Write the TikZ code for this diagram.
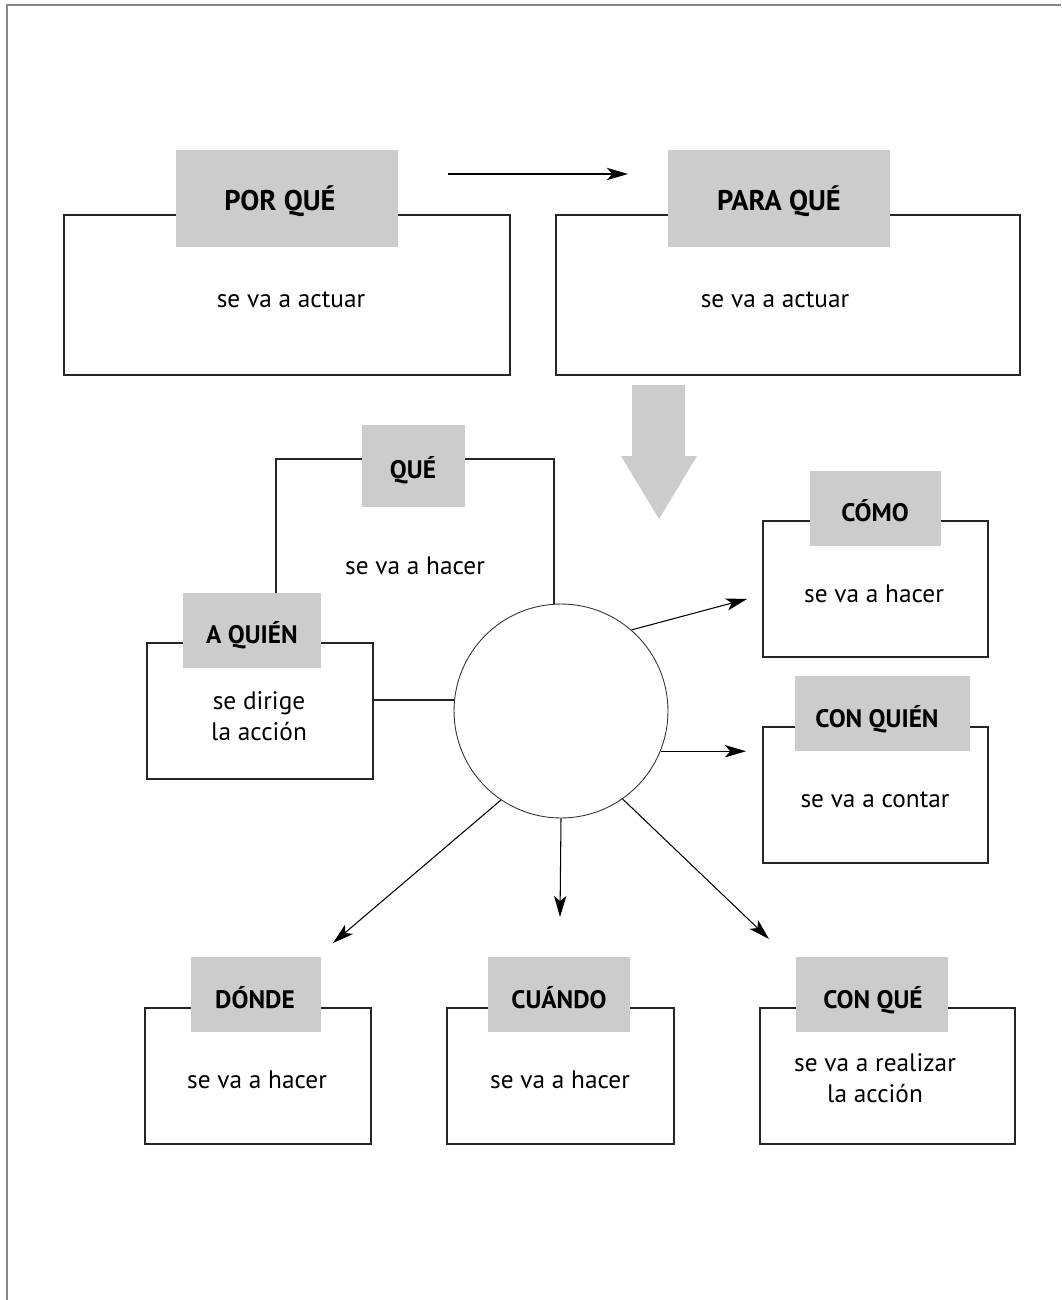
\documentclass[tikz,border=0pt]{standalone}
\usepackage{fontspec}
\setmainfont{PT Sans}
\usetikzlibrary{fit,arrows.meta}
\definecolor{labgray}{RGB}{204,204,204}
\definecolor{framegray}{RGB}{136,136,136}
\begin{document}
\begin{tikzpicture}[x=0.02cm,y=-0.02cm,
  frame/.style={draw=framegray, line width=1.2pt},
  box/.style={draw=black!85, line width=0.6pt, fill=white, inner sep=0pt},
  lab/.style={fill=labgray, inner sep=0pt},
  bigt/.style={font=\fontsize{16.2}{20}\selectfont\bfseries, anchor=base, inner sep=0pt},
  lt/.style={font=\fontsize{14.4}{18}\selectfont\bfseries, anchor=base, inner sep=0pt},
  bt/.style={font=\fontsize{14.4}{17.6}\selectfont, anchor=base, inner sep=0pt},
  bt2/.style={font=\fontsize{14.4}{17.6}\selectfont, align=center, inner sep=0pt},
  hub/.style={circle, draw=black!80, line width=0.5pt, fill=white, minimum size=4.28cm, inner sep=0pt},
  arr/.style={line width=0.6pt, -{Stealth[length=12pt,width=7pt,inset=3pt]}},
  bigarrow/.style={fill=labgray, draw=none}]
\useasboundingbox (0,0) rectangle (1061,1300);
% page frame
\draw[frame] (1061,5) -- (7,5) -- (7,1300);

% top row
\node[box, fit={(64,215)(510,375)}] (por) {};
\node[lab, fit={(176,150)(398,247)}] (porL) {};
\node[bigt] (porT) at (280,211) {POR QUÉ};
\node[bt] (porB) at (291,308) {se va a actuar};

\node[box, fit={(556,215)(1020,375)}] (para) {};
\node[lab, fit={(668,150)(890,247)}] (paraL) {};
\node[bigt] (paraT) at (779,211) {PARA QUÉ};
\node[bt] (paraB) at (775,308) {se va a actuar};

\coordinate (a1) at (448,174);
\coordinate (a2) at (628,174);
\draw[arr] (a1) -- (a2);

% big grey arrow
\path[bigarrow] (632,385) -- (685,385) -- (685,456) -- (697,456) -- (659,519)
  -- (621,456) -- (632,456) -- cycle;

% QUÉ frame
\node[draw=black!85, line width=0.6pt, inner sep=0pt, fit={(276,459)(554,700)}] (que) {};
\node[lab, fit={(362,425)(465,507)}] (queL) {};
\node[lt] (queT) at (413,478) {QUÉ};
\node[bt] (queB) at (415,574) {se va a hacer};

% A QUIÉN
\node[box, fit={(147,643)(373,779)}] (aq) {};
\node[lab, fit={(183,593)(321,668)}] (aqL) {};
\node[lt] (aqT) at (252,643) {A QUIÉN};
\node[bt2] (aqB) at (259,716) {se dirige\\la acción};

% hub circle
\node[hub] (hub) at (561,711) {};

% CÓMO
\node[box, fit={(763,521)(988,657)}] (como) {};
\node[lab, fit={(810,471)(941,546)}] (comoL) {};
\node[lt] (comoT) at (875,521) {CÓMO};
\node[bt] (comoB) at (874,602) {se va a hacer};

% CON QUIÉN
\node[box, fit={(763,727)(988,863)}] (cq) {};
\node[lab, fit={(795,676)(970,751)}] (cqL) {};
\node[lt] (cqT) at (877,727) {CON QUIÉN};
\node[bt] (cqB) at (875,807) {se va a contar};

% bottom row
\node[box, fit={(145,1008)(371,1144)}] (donde) {};
\node[lab, fit={(191,957)(321,1032)}] (dondeL) {};
\node[lt] (dondeT) at (255,1008) {DÓNDE};
\node[bt] (dondeB) at (257,1088) {se va a hacer};

\node[box, fit={(447,1008)(674,1144)}] (cuando) {};
\node[lab, fit={(488,957)(630,1032)}] (cuandoL) {};
\node[lt] (cuandoT) at (559,1008) {CUÁNDO};
\node[bt] (cuandoB) at (560,1088) {se va a hacer};

\node[box, fit={(760,1008)(1015,1144)}] (cq2) {};
\node[lab, fit={(796,957)(948,1032)}] (cq2L) {};
\node[lt] (cq2T) at (873,1008) {CON QUÉ};
\node[bt2] (cq2B) at (875,1078) {se va a realizar\\la acción};

% arrows from hub
\coordinate (tComo) at (747,599);
\coordinate (tCq) at (746,752);
\coordinate (tDonde) at (333,943);
\coordinate (tCuando) at (560,917);
\coordinate (tCq2) at (769,939);
\draw[arr] (hub.49) -- (tComo);
\draw[arr] (hub.-22) -- (hub.-22 -| tCq);
\draw[arr] (hub.-124.6) -- (tDonde);
\draw[arr] (hub.south) -- (tCuando);
\draw[arr] (hub.-55.7) -- (tCq2);
\end{tikzpicture}
\end{document}
